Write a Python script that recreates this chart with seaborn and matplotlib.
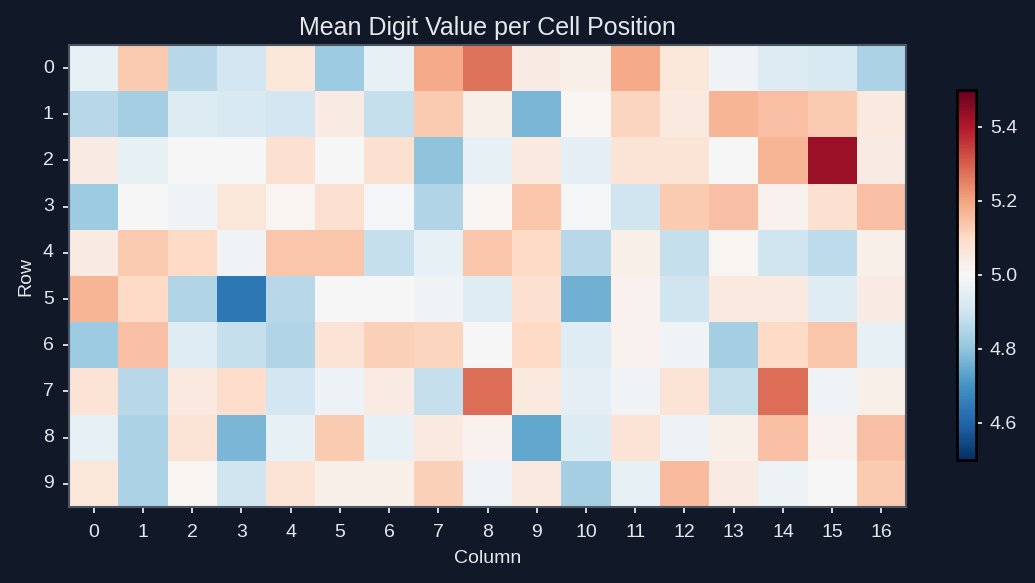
import numpy as np
import pandas as pd
import matplotlib
matplotlib.use("Agg")
import matplotlib.pyplot as plt
import seaborn as sns

# Mean digit value per (row, column) cell
rows = list(range(10))
cols = list(range(17))
row0 = [4.96, 5.13, 4.86, 4.91, 5.06, 4.82, 4.96, 5.19, 5.27, 5.04, 5.03, 5.19, 5.06, 4.98, 4.93, 4.92, 4.84]
row1 = [4.86, 4.83, 4.93, 4.92, 4.91, 5.04, 4.88, 5.13, 5.03, 4.77, 5.01, 5.11, 5.05, 5.17, 5.15, 5.13, 5.05]
row2 = [5.04, 4.96, 5.00, 5.00, 5.08, 5.00, 5.08, 4.80, 4.96, 5.05, 4.95, 5.07, 5.07, 5.00, 5.17, 5.43, 5.04]
row3 = [4.82, 5.00, 4.98, 5.06, 5.01, 5.08, 4.99, 4.85, 5.01, 5.14, 4.99, 4.90, 5.13, 5.15, 5.02, 5.08, 5.15]
row4 = [5.04, 5.13, 5.10, 4.98, 5.14, 5.14, 4.88, 4.96, 5.14, 5.10, 4.86, 5.03, 4.88, 5.01, 4.90, 4.87, 5.03]
row5 = [5.17, 5.10, 4.85, 4.64, 4.86, 5.00, 5.00, 4.98, 4.94, 5.08, 4.76, 5.02, 4.90, 5.05, 5.05, 4.94, 5.04]
row6 = [4.82, 5.15, 4.94, 4.88, 4.85, 5.07, 5.12, 5.11, 5.00, 5.10, 4.94, 5.02, 4.98, 4.83, 5.10, 5.14, 4.96]
row7 = [5.07, 4.86, 5.05, 5.09, 4.91, 4.97, 5.04, 4.88, 5.28, 5.05, 4.95, 4.98, 5.07, 4.88, 5.28, 4.98, 5.03]
row8 = [4.96, 4.84, 5.07, 4.77, 4.96, 5.13, 4.96, 5.05, 5.02, 4.74, 4.93, 5.07, 4.97, 5.03, 5.15, 5.02, 5.15]
row9 = [5.06, 4.84, 5.01, 4.90, 5.07, 5.03, 5.03, 5.12, 4.98, 5.05, 4.83, 4.96, 5.16, 5.04, 4.97, 5.00, 5.13]

grid = pd.DataFrame([row0, row1, row2, row3, row4, row5, row6, row7, row8, row9],
                    index=rows, columns=cols)

bg = "#111827"
fg = "#e5e7eb"

sns.set_theme(style="ticks")
plt.rcParams["font.family"] = ["Liberation Sans", "DejaVu Sans"]
plt.rcParams["text.color"] = fg
plt.rcParams["axes.labelcolor"] = fg
plt.rcParams["xtick.color"] = fg
plt.rcParams["ytick.color"] = fg

fig = plt.figure(figsize=(10.35, 5.83), dpi=100, facecolor=bg)
ax = fig.add_axes([0.0667, 0.1304, 0.8087, 0.7924])
cax = fig.add_axes([0.9250, 0.211, 0.0180, 0.635])
ax.set_facecolor(bg)

sns.heatmap(grid, cmap="RdBu_r", vmin=4.5, vmax=5.5, ax=ax, cbar_ax=cax,
            cbar_kws={"ticks": [4.6, 4.8, 5.0, 5.2, 5.4]})

ax.set_title("Mean Digit Value per Cell Position", fontsize=18, color=fg, pad=7)
ax.set_xlabel("Column", fontsize=14, labelpad=7)
ax.set_ylabel("Row", fontsize=14, labelpad=6)
ax.tick_params(axis="x", labelsize=14, length=4, width=1.3, colors=fg, pad=8)
ax.tick_params(axis="y", labelsize=14, length=4, width=1.3, colors=fg, pad=7)
ax.set_yticklabels(rows, rotation=0)
ax.set_xticklabels(cols, rotation=0)
for s in ax.spines.values():
    s.set_visible(True)
    s.set_color("#4b5563")
    s.set_linewidth(1.5)

cbar = ax.collections[0].colorbar
cbar.ax.tick_params(labelsize=14, colors=fg, length=4, width=1.3, pad=6)
cbar.outline.set_edgecolor("black")
cbar.outline.set_linewidth(2)
for lbl in cbar.ax.get_yticklabels():
    lbl.set_color(fg)

fig.savefig("out.png", dpi=100, facecolor=bg)
